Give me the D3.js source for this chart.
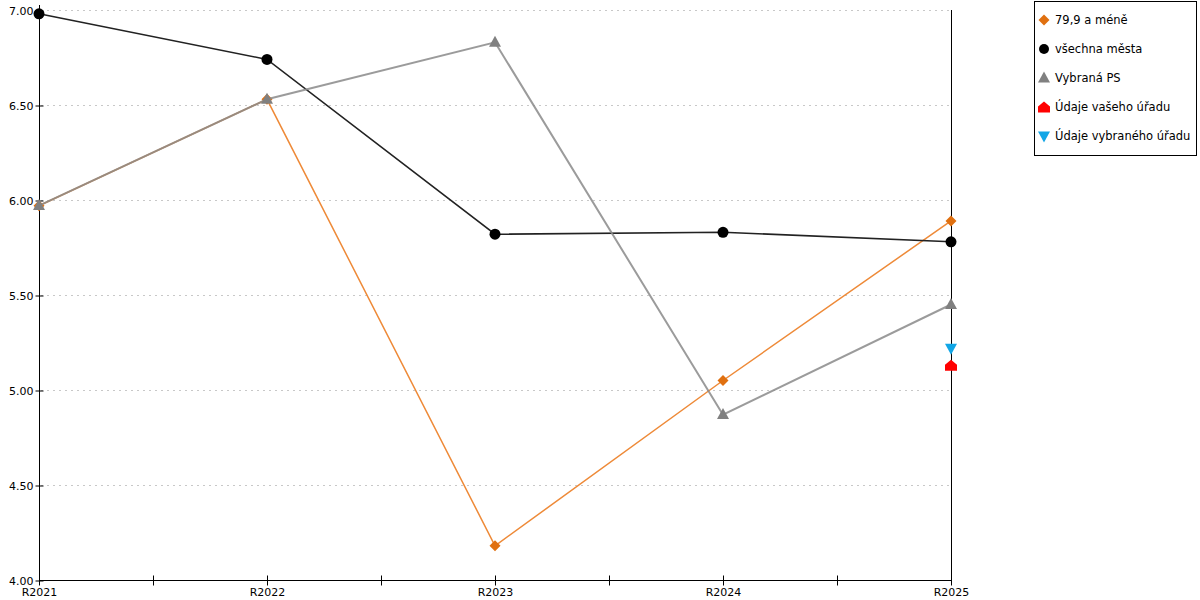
<!DOCTYPE html>
<html>
<head>
<meta charset="utf-8">
<script src="https://cdn.jsdelivr.net/npm/d3@7"></script>
<style>
  body { margin: 0; background: #fff; }
  svg { font-family: "DejaVu Sans", Verdana, sans-serif; }
</style>
</head>
<body>
<svg id="chart" width="1200" height="600"></svg>
<script>
// kategorie na ose x
var categories = ["R2021", "R2022", "R2023", "R2024", "R2025"];
// hodnoty serii (odhad z obrazku)
var valsMene = [5.97, 6.53, 4.18, 5.05, 5.89];
var valsMesta = [6.98, 6.74, 5.82, 5.83, 5.78];
var valsPS = [5.97, 6.53, 6.83, 4.87, 5.45];
var valsVasUrad = [null, null, null, null, 5.13];
var valsVybranyUrad = [null, null, null, null, 5.22];
var seriesNames = ["79,9 a méně", "všechna města", "Vybraná PS", "Údaje vašeho úřadu", "Údaje vybraného úřadu"];
var yTicks = [4, 4.5, 5, 5.5, 6, 6.5, 7];

var svg = d3.select("#chart");
var plotLeft = 39, plotRight = 951, plotTop = 10, plotBottom = 580;

var x = d3.scaleLinear().domain([0, categories.length - 1]).range([plotLeft, plotRight]);
var y = d3.scaleLinear().domain([4, 7]).range([plotBottom, plotTop]);

// mrizka
svg.append("g").selectAll("line")
  .data(yTicks.filter(function (d) { return d > 4; }))
  .enter().append("line")
  .attr("x1", plotLeft + 2).attr("x2", plotRight)
  .attr("y1", function (d) { return y(d) + 0.5; })
  .attr("y2", function (d) { return y(d) + 0.5; })
  .attr("stroke", "#c8c8c8")
  .attr("stroke-dasharray", "2,4");

// osa y
var yAxis = svg.append("g").attr("transform", "translate(" + (plotLeft + 0.5) + ",0.5)")
  .call(d3.axisLeft(y).tickValues(yTicks).tickFormat(d3.format(".2f")).tickSize(4));
yAxis.selectAll(".tick line").attr("x1", 4).attr("x2", -4).attr("stroke", "#000");
yAxis.select(".domain").remove();
yAxis.selectAll("text").attr("font-size", 11).attr("fill", "#000").attr("x", -6)
  .attr("font-family", "DejaVu Sans");
svg.append("line").attr("x1", plotLeft + 0.5).attr("x2", plotLeft + 0.5).attr("y1", plotTop - 5).attr("y2", plotBottom)
  .attr("stroke", "#000");
// prava hranice
svg.append("line").attr("x1", plotRight + 0.5).attr("x2", plotRight + 0.5).attr("y1", plotTop).attr("y2", plotBottom)
  .attr("stroke", "#000");

// osa x
var xAxis = svg.append("g").attr("transform", "translate(0," + (plotBottom + 0.5) + ")")
  .call(d3.axisBottom(x).tickValues(d3.range(0, categories.length - 0.9, 0.5))
    .tickFormat(function (d) { return Number.isInteger(d) ? categories[d] : ""; }).tickSize(5));
xAxis.selectAll(".tick line").attr("y1", -5).attr("y2", 5).attr("stroke", "#000");
xAxis.select(".domain").attr("d", "M" + plotLeft + ",0H" + (plotRight + 1)).attr("stroke", "#000");
xAxis.selectAll("text").attr("font-size", 11).attr("fill", "#000").attr("y", 8)
  .attr("font-family", "DejaVu Sans");

// tvary znacek
function diamond(s) { return "M0," + (-s) + "L" + s + ",0L0," + s + "L" + (-s) + ",0Z"; }
function triUp(w, h) { return "M0," + (-h * 0.6) + "L" + (w / 2) + "," + (h * 0.4) + "L" + (-w / 2) + "," + (h * 0.4) + "Z"; }
function triDown(w, h) { return "M0," + (h * 0.6) + "L" + (w / 2) + "," + (-h * 0.4) + "L" + (-w / 2) + "," + (-h * 0.4) + "Z"; }
function house(w, h) {
  return "M0," + (-h / 2) + "L" + (w / 2) + "," + (-h / 2 + h * 0.45) + "L" + (w / 2) + "," + (h / 2) +
    "L" + (-w / 2) + "," + (h / 2) + "L" + (-w / 2) + "," + (-h / 2 + h * 0.45) + "Z";
}

var series = [
  { name: seriesNames[0], values: valsMene, line: "#ee8a38", lw: 1.5, fill: "#e07010", shape: diamond(5.5), op: 1 },
  { name: seriesNames[1], values: valsMesta, line: "#222", lw: 1.6, fill: "#000", shape: "circle", op: 1 },
  { name: seriesNames[2], values: valsPS, line: "#8a8a8a", lw: 2, fill: "#808080", shape: triUp(12, 11), op: 0.85 },
  { name: seriesNames[3], values: valsVasUrad, line: null, fill: "#ff0000", shape: house(12, 11), op: 1 },
  { name: seriesNames[4], values: valsVybranyUrad, line: null, fill: "#12a6e6", shape: triDown(12, 11), op: 1 }
];

var line = d3.line()
  .defined(function (d) { return d != null; })
  .x(function (d, i) { return x(i); })
  .y(function (d) { return y(d); });

series.forEach(function (s) {
  if (s.line) {
    svg.append("path").datum(s.values)
      .attr("d", line)
      .attr("fill", "none")
      .attr("stroke", s.line)
      .attr("stroke-opacity", s.op)
      .attr("stroke-width", s.lw);
  }
  var pts = s.values.map(function (v, i) { return { v: v, i: i }; }).filter(function (p) { return p.v != null; });
  var g = svg.append("g");
  if (s.shape === "circle") {
    g.selectAll("circle").data(pts).enter().append("circle")
      .attr("cx", function (p) { return x(p.i); })
      .attr("cy", function (p) { return y(p.v); })
      .attr("r", 5.5).attr("fill", s.fill);
  } else {
    g.selectAll("path").data(pts).enter().append("path")
      .attr("transform", function (p) { return "translate(" + x(p.i) + "," + y(p.v) + ")"; })
      .attr("d", s.shape).attr("fill", s.fill);
  }
});

// legenda
var lg = svg.append("g");
lg.append("rect").attr("x", 1034.5).attr("y", 1.5).attr("width", 162).attr("height", 154)
  .attr("fill", "#fff").attr("stroke", "#000");
series.forEach(function (s, i) {
  var cy = 20 + i * 29;
  if (s.shape === "circle") {
    lg.append("circle").attr("cx", 1044).attr("cy", cy).attr("r", 5).attr("fill", s.fill);
  } else {
    lg.append("path").attr("transform", "translate(1044," + cy + ")").attr("d", s.shape).attr("fill", s.fill);
  }
  lg.append("text").attr("x", 1055).attr("y", cy + 4).attr("font-size", 11.5).attr("fill", "#000").text(s.name);
});
</script>
</body>
</html>
